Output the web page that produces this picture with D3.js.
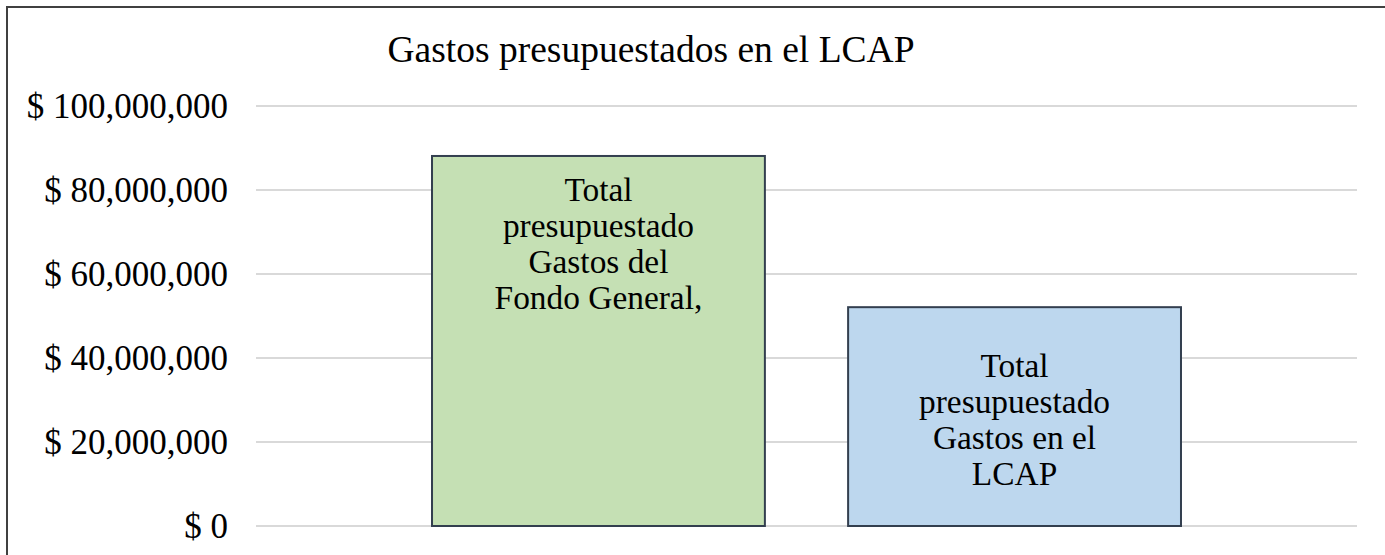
<html>
<head>
<meta charset="utf-8">
<title>Gastos presupuestados en el LCAP</title>
<script src="https://cdn.jsdelivr.net/npm/d3@7"></script>
<style>
  body { margin: 0; background: #fff; }
  text { font-family: "Liberation Serif", "Times New Roman", serif; fill: #000; }
</style>
</head>
<body>
<div id="chart"></div>
<script>
// datos
var series = ["Fondo General", "LCAP"];
var values = [88100000, 52100000];
var labels = [
    ["Total", "presupuestado", "Gastos del", "Fondo General,"],
    ["Total", "presupuestado", "Gastos en el", "LCAP"]
];
var colors = ["#C5E0B4", "#BDD7EE"];
var ticks = [0, 20000000, 40000000, 60000000, 80000000, 100000000];

var width = 1385, height = 555;
var svg = d3.select("#chart").append("svg")
    .attr("width", width).attr("height", height);

// marco
svg.append("rect")
    .attr("x", 7).attr("y", 7)
    .attr("width", width + 20).attr("height", height + 20)
    .attr("fill", "#fff").attr("stroke", "#404040").attr("stroke-width", 2);

var plotLeft = 256, plotRight = 1357, plotTop = 106, plotBottom = 526;

var y = d3.scaleLinear().domain([0, 100000000]).range([plotBottom, plotTop]);
var x = d3.scaleBand().domain(series).range([plotLeft, plotRight])
    .paddingInner(0.2).paddingOuter(0.423);

// lineas de cuadricula
svg.append("g").selectAll("line")
    .data(ticks).enter().append("line")
    .attr("x1", plotLeft).attr("x2", plotRight)
    .attr("y1", function (d) { return y(d); })
    .attr("y2", function (d) { return y(d); })
    .attr("stroke", "#D9D9D9").attr("stroke-width", 2);

// etiquetas del eje
var fmt = d3.format(",");
svg.append("g").selectAll("text")
    .data(ticks).enter().append("text")
    .attr("x", 228)
    .attr("y", function (d) { return y(d); })
    .attr("dy", "0.35em")
    .attr("text-anchor", "end")
    .style("font-size", "35px")
    .text(function (d) { return "$ " + fmt(d); });

// barras
svg.append("g").selectAll("rect")
    .data(values).enter().append("rect")
    .attr("x", function (d, i) { return x(series[i]); })
    .attr("y", function (d) { return y(d); })
    .attr("width", x.bandwidth())
    .attr("height", function (d) { return plotBottom - y(d); })
    .attr("fill", function (d, i) { return colors[i]; })
    .attr("stroke", "#333F4F").attr("stroke-width", 2);

// etiquetas de datos
var lineH = 36;
values.forEach(function (v, i) {
    var cx = x(series[i]) + x.bandwidth() / 2;
    var n = labels[i].length;
    var y0;
    if (i == 0) {
        y0 = y(v) + 45;
    } else {
        y0 = (y(v) + plotBottom) / 2 - (n - 1) * lineH / 2 + 14;
    }
    var t = svg.append("text")
        .attr("text-anchor", "middle")
        .style("font-size", "33.4px");
    labels[i].forEach(function (s, k) {
        t.append("tspan").attr("x", cx).attr("y", y0 + k * lineH).text(s);
    });
});

// titulo
svg.append("text")
    .attr("x", 651).attr("y", 62)
    .attr("text-anchor", "middle")
    .style("font-size", "37.5px")
    .text("Gastos presupuestados en el LCAP");
</script>
</body>
</html>
